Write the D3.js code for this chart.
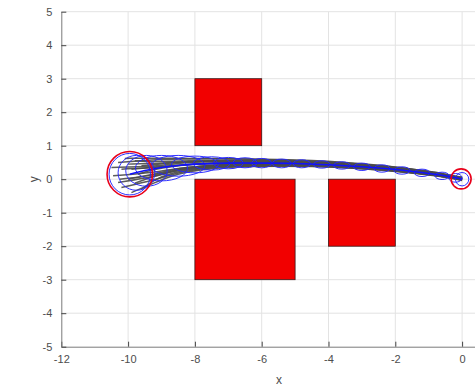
<!DOCTYPE html>
<html>
<head>
<meta charset="utf-8">
<script src="https://cdn.jsdelivr.net/npm/d3@7"></script>
<style>
  html, body { margin: 0; padding: 0; background: #fff; }
  svg { display: block; font-family: "Liberation Sans", Arial, sans-serif; }
</style>
</head>
<body>
<div id="chart"></div>
<script>
// Axis ticks
const xTicks = [-12, -10, -8, -6, -4, -2, 0];
const yTicks = [-5, -4, -3, -2, -1, 0, 1, 2, 3, 4, 5];

// Obstacles: [x0, x1, y0, y1]
const obstacles = [
  [-8, -6, 1, 3],
  [-8, -5, -3, 0],
  [-4, -2, -2, 0]
];

// Start and goal regions: [cx, cy, r]
const regions = [
  [-9.95, 0.15, 0.68],
  [-0.03, 0.01, 0.3]
];

// Sampled trajectories: start point, y at shared stations, final y at x = 0
const stations = [-9.2, -8.7, -8.2, -7.5, -6.5, -5.5, -4.5, -3.5, -2.5, -1.5, -0.7, -0.2];
const trajStarts = [
  [-10.3, 0.5], [-10.1, 0.62], [-9.8, 0.55], [-10.45, 0.1], [-10.2, -0.25],
  [-9.9, -0.4], [-9.6, -0.3], [-10.0, 0.0], [-9.7, 0.15], [-10.5, 0.35],
  [-9.8, -0.12], [-10.2, 0.3], [-9.6, 0.4], [-10.3, -0.1], [-9.9, 0.3],
  [-10.0, 0.45], [-10.25, 0.0]
];
const trajYs = [
  [0.58, 0.6, 0.6, 0.61, 0.61, 0.59, 0.56, 0.5, 0.42, 0.31, 0.19, 0.08, 0.05],
  [0.63, 0.62, 0.62, 0.62, 0.6, 0.58, 0.54, 0.49, 0.41, 0.31, 0.2, 0.09, 0.06],
  [0.52, 0.54, 0.55, 0.56, 0.56, 0.54, 0.51, 0.46, 0.38, 0.27, 0.16, 0.05, 0.02],
  [0.2, 0.3, 0.36, 0.41, 0.43, 0.43, 0.41, 0.37, 0.3, 0.2, 0.1, 0.01, -0.02],
  [-0.02, 0.14, 0.26, 0.35, 0.39, 0.4, 0.39, 0.35, 0.28, 0.19, 0.09, 0.01, -0.04],
  [-0.1, 0.1, 0.23, 0.33, 0.38, 0.39, 0.38, 0.35, 0.29, 0.2, 0.1, 0.02, -0.03],
  [0.0, 0.18, 0.29, 0.37, 0.42, 0.43, 0.42, 0.38, 0.31, 0.21, 0.11, 0.03, -0.01],
  [0.15, 0.28, 0.36, 0.42, 0.46, 0.47, 0.45, 0.41, 0.34, 0.24, 0.14, 0.05, 0.02],
  [0.3, 0.38, 0.43, 0.47, 0.49, 0.49, 0.47, 0.42, 0.35, 0.25, 0.14, 0.05, 0.01],
  [0.38, 0.45, 0.5, 0.53, 0.55, 0.54, 0.51, 0.46, 0.39, 0.29, 0.17, 0.06, 0.03],
  [0.1, 0.24, 0.33, 0.4, 0.44, 0.45, 0.43, 0.39, 0.32, 0.22, 0.12, 0.04, -0.01],
  [0.35, 0.4, 0.44, 0.48, 0.5, 0.49, 0.47, 0.43, 0.36, 0.26, 0.15, 0.05, 0.01],
  [0.44, 0.49, 0.52, 0.55, 0.57, 0.56, 0.53, 0.47, 0.39, 0.29, 0.17, 0.06, 0.02],
  [0.08, 0.22, 0.31, 0.38, 0.41, 0.42, 0.4, 0.36, 0.3, 0.2, 0.1, 0.02, -0.02],
  [0.36, 0.4, 0.44, 0.48, 0.5, 0.5, 0.48, 0.44, 0.37, 0.27, 0.16, 0.06, 0.02],
  [0.47, 0.5, 0.52, 0.53, 0.53, 0.52, 0.49, 0.44, 0.36, 0.25, 0.14, 0.04, 0.0],
  [0.12, 0.25, 0.35, 0.42, 0.47, 0.47, 0.45, 0.41, 0.34, 0.24, 0.13, 0.04, 0.0]
];

// Mean path
const meanX = [-9.95, -9.5, -9.0, -8.5, -8.0, -7.0, -6.0, -5.0, -4.0, -3.0, -2.0, -1.0, -0.4, 0.0];
const meanY = [0.15, 0.26, 0.35, 0.41, 0.45, 0.48, 0.48, 0.47, 0.43, 0.37, 0.29, 0.17, 0.08, 0.0];

// Covariance ellipses along the mean path: [cx, cy, rx, ry]
const ellipses = [
  [-9.95, 0.15, 0.62, 0.62], [-9.75, 0.19, 0.55, 0.52], [-9.45, 0.25, 0.62, 0.46],
  [-9.0, 0.33, 0.78, 0.38], [-8.5, 0.4, 0.8, 0.31], [-8.0, 0.44, 0.7, 0.25],
  [-7.5, 0.47, 0.55, 0.2], [-7.0, 0.48, 0.45, 0.17], [-6.5, 0.49, 0.36, 0.15],
  [-6.0, 0.48, 0.3, 0.14], [-5.4, 0.47, 0.28, 0.13], [-4.8, 0.46, 0.26, 0.12],
  [-4.2, 0.44, 0.25, 0.11], [-3.6, 0.41, 0.25, 0.11], [-3.0, 0.37, 0.25, 0.11],
  [-2.4, 0.32, 0.24, 0.11], [-1.8, 0.26, 0.24, 0.11], [-1.2, 0.19, 0.23, 0.11],
  [-0.6, 0.1, 0.21, 0.11], [-0.2, 0.04, 0.2, 0.13], [0.0, 0.0, 0.2, 0.2]
];

const W = 475, H = 387;
const x = d3.scaleLinear().domain([-12, 1]).range([61.3, 61.3 + 13 * 33.4]);
const y = d3.scaleLinear().domain([-5, 5]).range([346.7, 11.7]);
const fmt = d => String(d);

const svg = d3.select("#chart").append("svg").attr("width", W).attr("height", H);

// Grid
const grid = svg.append("g").attr("stroke", "#e3e3e3").attr("stroke-width", 1);
grid.selectAll("line.gx").data(xTicks.slice(1)).join("line")
  .attr("x1", d => x(d)).attr("x2", d => x(d)).attr("y1", y(-5)).attr("y2", y(5));
grid.selectAll("line.gy").data(yTicks.slice(1)).join("line")
  .attr("x1", x(-12)).attr("x2", x(1)).attr("y1", d => y(d)).attr("y2", d => y(d));

// Obstacles
svg.append("g").selectAll("rect").data(obstacles).join("rect")
  .attr("x", d => x(d[0])).attr("y", d => y(d[3]))
  .attr("width", d => x(d[1]) - x(d[0])).attr("height", d => y(d[2]) - y(d[3]))
  .attr("fill", "#f20000").attr("stroke", "#3a1a1a").attr("stroke-width", 0.8);

// Trajectories
const line = d3.line().x(d => x(d[0])).y(d => y(d[1])).curve(d3.curveBasis);
const trajPts = trajStarts.map((s, i) => {
  const pts = [s];
  stations.forEach((sx, j) => pts.push([sx, trajYs[i][j]]));
  pts.push([0, trajYs[i][stations.length]]);
  return pts;
});
svg.append("g").selectAll("path").data(trajPts).join("path")
  .attr("d", line).attr("fill", "none")
  .attr("stroke", "#4a4a4a").attr("stroke-width", 1.5).attr("stroke-opacity", 0.9);

// Covariance ellipses
svg.append("g").selectAll("ellipse").data(ellipses).join("ellipse")
  .attr("cx", d => x(d[0])).attr("cy", d => y(d[1]))
  .attr("rx", d => x(d[0] + d[2]) - x(d[0])).attr("ry", d => y(d[1] - d[3]) - y(d[1]))
  .attr("fill", "none").attr("stroke", "#2424ff").attr("stroke-width", 0.95);

// Mean path
svg.append("path").datum(meanX.map((v, i) => [v, meanY[i]]))
  .attr("d", d3.line().x(d => x(d[0])).y(d => y(d[1])).curve(d3.curveCatmullRom))
  .attr("fill", "none").attr("stroke", "#1010ff").attr("stroke-width", 1.6);

// Start and goal regions
svg.append("g").selectAll("circle").data(regions).join("circle")
  .attr("cx", d => x(d[0])).attr("cy", d => y(d[1]))
  .attr("r", d => x(d[0] + d[2]) - x(d[0]))
  .attr("fill", "none").attr("stroke", "#e8001a").attr("stroke-width", 1.6);

// Axes
const xAxis = svg.append("g").attr("transform", `translate(0,${y(-5)})`)
  .call(d3.axisBottom(x).tickValues(xTicks).tickFormat(fmt).tickSizeInner(-5).tickSizeOuter(0).tickPadding(9));
const yAxis = svg.append("g").attr("transform", `translate(${x(-12)},0)`)
  .call(d3.axisLeft(y).tickValues(yTicks).tickFormat(fmt).tickSizeInner(-5).tickSizeOuter(0).tickPadding(9));
[xAxis, yAxis].forEach(a => {
  a.select(".domain").attr("stroke", "#7a7a7a").attr("stroke-width", 1);
  a.selectAll(".tick line").attr("stroke", "#444").attr("stroke-width", 1);
  a.selectAll(".tick text").attr("fill", "#4d4d4d").attr("font-size", 11);
});

// Axis labels
svg.append("text").attr("x", 279).attr("y", 384).attr("text-anchor", "middle")
  .attr("fill", "#4d4d4d").attr("font-size", 12).text("x");
svg.append("text").attr("transform", `translate(38,${y(0)}) rotate(-90)`)
  .attr("text-anchor", "middle").attr("fill", "#4d4d4d").attr("font-size", 12).text("y");
</script>
</body>
</html>
